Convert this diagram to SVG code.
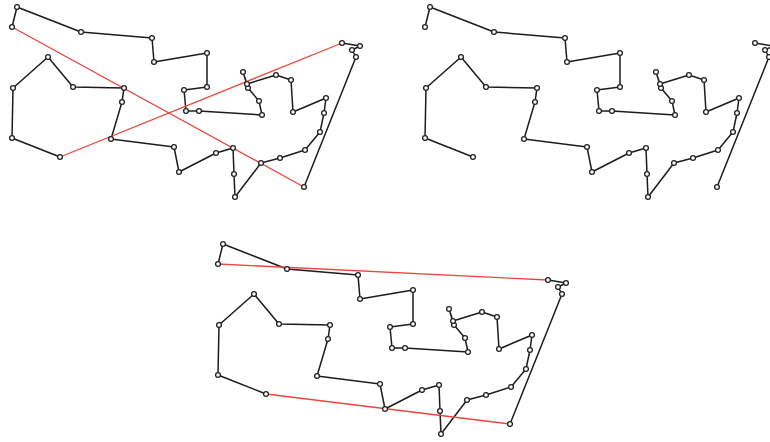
<svg xmlns="http://www.w3.org/2000/svg" xmlns:xlink="http://www.w3.org/1999/xlink" width="770" height="442" viewBox="0 0 770 442">
<style>
.tour{fill:none;stroke:#1c1c1c;stroke-width:1.5;stroke-linejoin:round}
.red{stroke:#e8473e;stroke-width:1.3;fill:none}
.pt{fill:#fff;stroke:#222;stroke-width:1.3}
</style>
<defs>
<g id="paths">
<path class="tour" d="M12,27 L17,7 L81,32 L152,38 L154,62 L207,53 L207,87 L184,90 L186,111 L199,111 L262,115 L259,101 L248,88 L243,72 L247,84 L276,75 L291,80 L293,112 L326,98 L324,113 L320,132 L305,150 L280,158 L261,163 L235,197 L234,174 L233,148 L216,153 L179,172 L174,147 L111,139 L122,102 L124,88 L73,87 L48,57 L13,88 L12,138 L60,157"/>
<path class="tour" d="M342,43 L360,46 L352,50 L356,57 L304,187"/>
</g>
<g id="pts">
<circle class="pt" r="2.4" cx="12" cy="27"/><circle class="pt" r="2.4" cx="17" cy="7"/><circle class="pt" r="2.4" cx="81" cy="32"/><circle class="pt" r="2.4" cx="152" cy="38"/><circle class="pt" r="2.4" cx="154" cy="62"/><circle class="pt" r="2.4" cx="207" cy="53"/><circle class="pt" r="2.4" cx="207" cy="87"/><circle class="pt" r="2.4" cx="184" cy="90"/><circle class="pt" r="2.4" cx="186" cy="111"/><circle class="pt" r="2.4" cx="199" cy="111"/><circle class="pt" r="2.4" cx="262" cy="115"/><circle class="pt" r="2.4" cx="259" cy="101"/><circle class="pt" r="2.4" cx="248" cy="88"/><circle class="pt" r="2.4" cx="243" cy="72"/><circle class="pt" r="2.4" cx="247" cy="84"/><circle class="pt" r="2.4" cx="276" cy="75"/><circle class="pt" r="2.4" cx="291" cy="80"/><circle class="pt" r="2.4" cx="293" cy="112"/><circle class="pt" r="2.4" cx="326" cy="98"/><circle class="pt" r="2.4" cx="324" cy="113"/><circle class="pt" r="2.4" cx="320" cy="132"/><circle class="pt" r="2.4" cx="305" cy="150"/><circle class="pt" r="2.4" cx="280" cy="158"/><circle class="pt" r="2.4" cx="261" cy="163"/><circle class="pt" r="2.4" cx="235" cy="197"/><circle class="pt" r="2.4" cx="234" cy="174"/><circle class="pt" r="2.4" cx="233" cy="148"/><circle class="pt" r="2.4" cx="216" cy="153"/><circle class="pt" r="2.4" cx="179" cy="172"/><circle class="pt" r="2.4" cx="174" cy="147"/><circle class="pt" r="2.4" cx="111" cy="139"/><circle class="pt" r="2.4" cx="122" cy="102"/><circle class="pt" r="2.4" cx="124" cy="88"/><circle class="pt" r="2.4" cx="73" cy="87"/><circle class="pt" r="2.4" cx="48" cy="57"/><circle class="pt" r="2.4" cx="13" cy="88"/><circle class="pt" r="2.4" cx="12" cy="138"/><circle class="pt" r="2.4" cx="60" cy="157"/><circle class="pt" r="2.4" cx="342" cy="43"/><circle class="pt" r="2.4" cx="360" cy="46"/><circle class="pt" r="2.4" cx="352" cy="50"/><circle class="pt" r="2.4" cx="356" cy="57"/><circle class="pt" r="2.4" cx="304" cy="187"/>
</g>
</defs>
<rect width="770" height="442" fill="#fff"/>
<g id="panel-before">
<use xlink:href="#paths"/>
<g id="removed-edges">
<line class="red" x1="60" y1="157" x2="342" y2="43"/>
<line class="red" x1="12" y1="27" x2="304" y2="187"/>
</g>
<use xlink:href="#pts"/>
</g>
<g id="panel-split" transform="translate(413,0)">
<use xlink:href="#paths"/>
<use xlink:href="#pts"/>
</g>
<g id="panel-after" transform="translate(206,237)">
<use xlink:href="#paths"/>
<g id="added-edges">
<line class="red" x1="12" y1="27" x2="342" y2="43"/>
<line class="red" x1="60" y1="157" x2="304" y2="187"/>
</g>
<use xlink:href="#pts"/>
</g>
</svg>
